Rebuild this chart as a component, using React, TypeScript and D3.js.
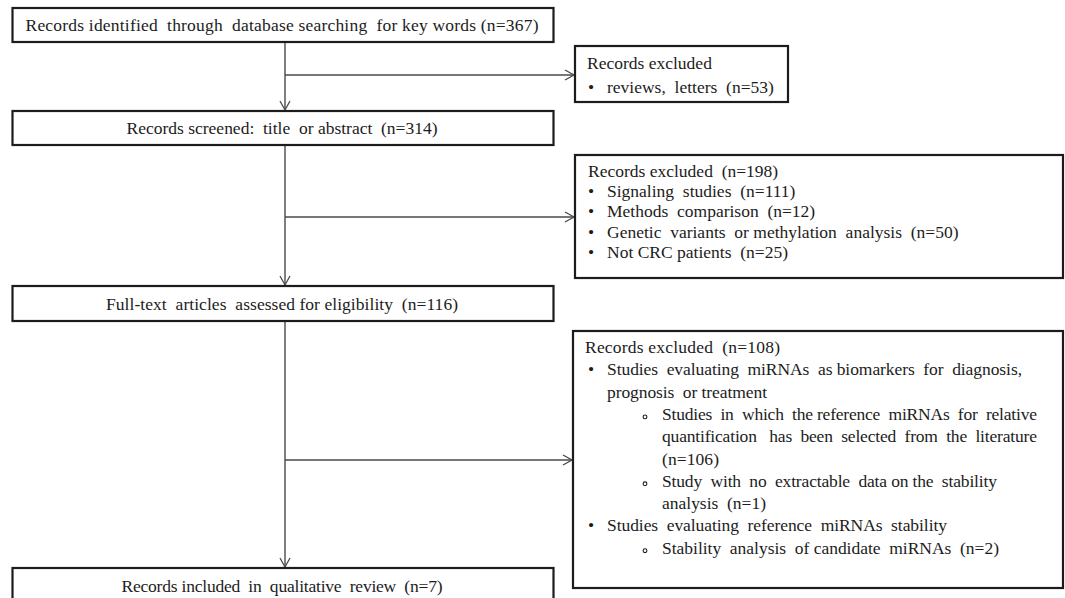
import React from 'react';
import * as d3 from 'd3';

// flow steps (main column)
const mainSteps = [
  'Records identified  through  database searching  for key words (n=367)',
  'Records screened:  title  or abstract  (n=314)',
  'Full-text  articles  assessed for eligibility  (n=116)',
  'Records included  in  qualitative  review  (n=7)',
];

// exclusion boxes: level 0 = heading, 1 = bullet, 2 = sub bullet, cont = continuation line
interface Line { level: number; text: string; cont?: boolean }

const excludedIdentification: Line[] = [
  { level: 0, text: 'Records excluded' },
  { level: 1, text: 'reviews,  letters  (n=53)' },
];

const excludedScreening: Line[] = [
  { level: 0, text: 'Records excluded  (n=198)' },
  { level: 1, text: 'Signaling  studies  (n=111)' },
  { level: 1, text: 'Methods  comparison  (n=12)' },
  { level: 1, text: 'Genetic  variants  or methylation  analysis  (n=50)' },
  { level: 1, text: 'Not CRC patients  (n=25)' },
];

const excludedEligibility: Line[] = [
  { level: 0, text: 'Records excluded  (n=108)' },
  { level: 1, text: 'Studies  evaluating  miRNAs  as biomarkers  for  diagnosis,' },
  { level: 1, text: 'prognosis  or treatment', cont: true },
  { level: 2, text: 'Studies  in  which  the reference  miRNAs  for  relative' },
  { level: 2, text: 'quantification   has  been  selected  from  the  literature', cont: true },
  { level: 2, text: '(n=106)', cont: true },
  { level: 2, text: 'Study  with  no  extractable  data on the  stability' },
  { level: 2, text: 'analysis  (n=1)', cont: true },
  { level: 1, text: 'Studies  evaluating  reference  miRNAs  stability' },
  { level: 2, text: 'Stability  analysis  of candidate  miRNAs  (n=2)' },
];

// layout
const W = 1065;
const H = 598;
const mainBox = { x: 12.5, w: 541 };
const mainTops = [8, 111, 286, 568];
const mainHeights = [34, 34, 35, 40];
const mainBaselines = [31, 134, 310, 592];
const mainTextWidths = [513, 311, 352, 321];
const trunkX = 285;

// measured right ends of text lines (for word spacing as in the source)
const eligibilityLineEnds = [780, 1022, 767, 1037, 1037, 719, 997, 766, 947, 999];

const sideBoxes = [
  { x: 575, y: 46, w: 213, h: 56, branchY: 75, titleX: 587, first: 69, lh: 24, lines: excludedIdentification, ends: null as number[] | null },
  { x: 575, y: 155, w: 488, h: 123, branchY: 217, titleX: 588, first: 177, lh: 20.2, lines: excludedScreening, ends: null as number[] | null },
  { x: 573, y: 331, w: 490, h: 257, branchY: 460, titleX: 585, first: 353, lh: 22.3, lines: excludedEligibility, ends: eligibilityLineEnds },
];

const bulletX = 588;
const bulletTextX = 607;
const subBulletX = 645;
const subTextX = 662;

const ink = '#1c1c1c';
const lineInk = '#4a4a4a';
const font = 'Liberation Serif';
const fontSize = 17.5;

const arrowHead = (tipX: number, tipY: number, dir: 'down' | 'right') => {
  const p = d3.path();
  const len = 9;
  const half = 5;
  if (dir === 'down') {
    p.moveTo(tipX - half, tipY - len);
    p.lineTo(tipX, tipY);
    p.lineTo(tipX + half, tipY - len);
  } else {
    p.moveTo(tipX - len, tipY - half);
    p.lineTo(tipX, tipY);
    p.lineTo(tipX - len, tipY + half);
  }
  return p.toString();
};

const seg = d3.line<[number, number]>();

const textStyle: React.CSSProperties = { whiteSpace: 'pre', fontFamily: font, fontSize };

const App: React.FC = () => {
  return (
    <svg
      width={W}
      height={H}
      style={{ position: 'absolute', left: 0, top: 0, background: '#fff' }}
    >
      {/* trunk connectors */}
      {mainSteps.slice(0, -1).map((_, i) => {
        const y0 = mainTops[i] + mainHeights[i];
        const y1 = mainTops[i + 1] - 1;
        return (
          <g key={`trunk-${i}`}>
            <path d={seg([[trunkX, y0], [trunkX, y1]]) || ''} stroke={lineInk} strokeWidth={1.4} fill="none" />
            <path d={arrowHead(trunkX, y1, 'down')} stroke={lineInk} strokeWidth={1.3} fill="none" />
          </g>
        );
      })}

      {/* branches */}
      {sideBoxes.map((b, i) => (
        <g key={`branch-${i}`}>
          <path d={seg([[trunkX, b.branchY], [b.x - 1, b.branchY]]) || ''} stroke={lineInk} strokeWidth={1.4} fill="none" />
          <path d={arrowHead(b.x - 1, b.branchY, 'right')} stroke={lineInk} strokeWidth={1.3} fill="none" />
        </g>
      ))}

      {/* main boxes */}
      {mainSteps.map((t, i) => (
        <g key={`main-${i}`}>
          <rect x={mainBox.x} y={mainTops[i]} width={mainBox.w} height={mainHeights[i]} fill="#fff" stroke={ink} strokeWidth={2.2} />
          <text
            x={mainBox.x + mainBox.w / 2 - 1}
            y={mainBaselines[i]}
            textAnchor="middle"
            fill={ink}
            style={textStyle}
            textLength={mainTextWidths[i]}
            lengthAdjust="spacing"
          >
            {t}
          </text>
        </g>
      ))}

      {/* side boxes */}
      {sideBoxes.map((b, i) => (
        <g key={`side-${i}`}>
          <rect x={b.x} y={b.y} width={b.w} height={b.h} fill="#fff" stroke={ink} strokeWidth={2.2} />
          {b.lines.map((l, j) => {
            const y = b.first + j * b.lh;
            const tx = l.level === 0 ? b.titleX : l.level === 1 ? bulletTextX : subTextX;
            const fit = b.ends ? { textLength: b.ends[j] - tx, lengthAdjust: 'spacing' as const } : {};
            return (
              <g key={j}>
                {!l.cont && l.level === 1 && (
                  <text x={bulletX} y={y} fill={ink} style={textStyle}>•</text>
                )}
                {!l.cont && l.level === 2 && (
                  <circle cx={subBulletX} cy={y - 3} r={1.9} fill="none" stroke={ink} strokeWidth={1.1} />
                )}
                <text x={tx} y={y} fill={ink} style={textStyle} {...fit}>{l.text}</text>
              </g>
            );
          })}
        </g>
      ))}
    </svg>
  );
};

export default App;
